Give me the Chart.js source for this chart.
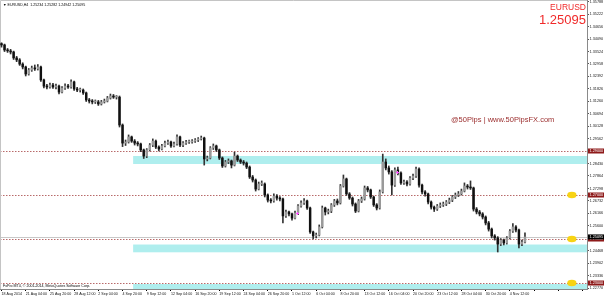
<!DOCTYPE html>
<html>
<head>
<meta charset="utf-8">
<title>EURUSD H4</title>
<script src="https://cdn.jsdelivr.net/npm/chart.js@4.4.0/dist/chart.umd.min.js"></script>
<style>
  html, body { margin: 0; padding: 0; background: #fff; }
  canvas { display: block; }
</style>
</head>
<body>
<canvas id="chart" width="604" height="297"></canvas>
<script>
// ── Candle data (EURUSD H4, 2 bars per candle) ──
var opens = [
  1.3388, 1.3382, 1.3359, 1.3355, 1.3350, 1.3323, 1.3314, 1.3295, 1.3282, 1.3250,
  1.3268, 1.3277, 1.3273, 1.3282, 1.3223, 1.3195, 1.3191, 1.3200, 1.3191, 1.3195,
  1.3168, 1.3186, 1.3195, 1.3191, 1.3214, 1.3182, 1.3177, 1.3177, 1.3164, 1.3132,
  1.3127, 1.3123, 1.3123, 1.3114, 1.3123, 1.3127, 1.3141, 1.3150, 1.3145, 1.3145,
  1.3018, 1.2936, 1.2941, 1.2964, 1.2945, 1.2936, 1.2932, 1.2905, 1.2877, 1.2905,
  1.2927, 1.2945, 1.2918, 1.2909, 1.2923, 1.2936, 1.2941, 1.2923, 1.2932, 1.2964,
  1.2927, 1.2936, 1.2941, 1.2941, 1.2945, 1.2950, 1.2955, 1.2959, 1.2864, 1.2868,
  1.2914, 1.2923, 1.2905, 1.2868, 1.2832, 1.2850, 1.2855, 1.2836, 1.2877, 1.2859,
  1.2850, 1.2845, 1.2827, 1.2782, 1.2768, 1.2727, 1.2750, 1.2750, 1.2700, 1.2677,
  1.2673, 1.2695, 1.2686, 1.2682, 1.2605, 1.2623, 1.2614, 1.2595, 1.2618, 1.2650,
  1.2664, 1.2673, 1.2641, 1.2532, 1.2514, 1.2518, 1.2555, 1.2641, 1.2623, 1.2627,
  1.2655, 1.2673, 1.2664, 1.2741, 1.2773, 1.2705, 1.2686, 1.2659, 1.2627, 1.2673,
  1.2682, 1.2732, 1.2723, 1.2691, 1.2655, 1.2641, 1.2714, 1.2850, 1.2823, 1.2805,
  1.2745, 1.2814, 1.2800, 1.2755, 1.2759, 1.2750, 1.2777, 1.2786, 1.2818, 1.2745,
  1.2714, 1.2705, 1.2668, 1.2645, 1.2636, 1.2650, 1.2655, 1.2659, 1.2668, 1.2677,
  1.2691, 1.2700, 1.2705, 1.2718, 1.2741, 1.2736, 1.2732, 1.2636, 1.2623, 1.2614,
  1.2600, 1.2573, 1.2545, 1.2514, 1.2505, 1.2477, 1.2495, 1.2482, 1.2505, 1.2536,
  1.2555, 1.2541, 1.2477, 1.2486
];
var highs = [
  1.3392, 1.3386, 1.3366, 1.3362, 1.3354, 1.3330, 1.3320, 1.3301, 1.3286, 1.3275,
  1.3286, 1.3291, 1.3293, 1.3286, 1.3227, 1.3203, 1.3209, 1.3207, 1.3204, 1.3200,
  1.3193, 1.3205, 1.3203, 1.3223, 1.3218, 1.3189, 1.3186, 1.3182, 1.3168, 1.3139,
  1.3134, 1.3132, 1.3130, 1.3130, 1.3136, 1.3148, 1.3159, 1.3157, 1.3152, 1.3150,
  1.3023, 1.2950, 1.2973, 1.2968, 1.2952, 1.2943, 1.2936, 1.2909, 1.2911, 1.2934,
  1.2955, 1.2950, 1.2923, 1.2930, 1.2945, 1.2950, 1.2945, 1.2941, 1.2973, 1.2968,
  1.2943, 1.2948, 1.2950, 1.2952, 1.2957, 1.2961, 1.2968, 1.2963, 1.2877, 1.2920,
  1.2932, 1.2927, 1.2909, 1.2873, 1.2857, 1.2864, 1.2859, 1.2895, 1.2882, 1.2864,
  1.2857, 1.2850, 1.2832, 1.2789, 1.2773, 1.2759, 1.2764, 1.2755, 1.2705, 1.2684,
  1.2705, 1.2702, 1.2693, 1.2686, 1.2632, 1.2627, 1.2618, 1.2627, 1.2657, 1.2673,
  1.2684, 1.2677, 1.2645, 1.2536, 1.2527, 1.2564, 1.2650, 1.2645, 1.2636, 1.2661,
  1.2680, 1.2682, 1.2748, 1.2791, 1.2777, 1.2711, 1.2691, 1.2664, 1.2680, 1.2691,
  1.2741, 1.2739, 1.2727, 1.2695, 1.2661, 1.2723, 1.2886, 1.2864, 1.2832, 1.2811,
  1.2823, 1.2827, 1.2805, 1.2768, 1.2766, 1.2784, 1.2795, 1.2827, 1.2823, 1.2750,
  1.2720, 1.2709, 1.2673, 1.2650, 1.2657, 1.2664, 1.2668, 1.2675, 1.2686, 1.2698,
  1.2709, 1.2716, 1.2727, 1.2755, 1.2748, 1.2764, 1.2736, 1.2643, 1.2630, 1.2620,
  1.2605, 1.2580, 1.2550, 1.2520, 1.2511, 1.2502, 1.2500, 1.2511, 1.2543, 1.2570,
  1.2561, 1.2545, 1.2495, 1.2528
];
var lows = [
  1.3372, 1.3352, 1.3348, 1.3341, 1.3316, 1.3306, 1.3289, 1.3273, 1.3241, 1.3245,
  1.3262, 1.3266, 1.3268, 1.3216, 1.3187, 1.3182, 1.3186, 1.3184, 1.3182, 1.3159,
  1.3164, 1.3180, 1.3184, 1.3186, 1.3175, 1.3170, 1.3168, 1.3157, 1.3125, 1.3118,
  1.3114, 1.3116, 1.3107, 1.3109, 1.3118, 1.3123, 1.3136, 1.3139, 1.3136, 1.3009,
  1.2920, 1.2925, 1.2936, 1.2939, 1.2927, 1.2923, 1.2897, 1.2866, 1.2870, 1.2900,
  1.2920, 1.2911, 1.2900, 1.2905, 1.2918, 1.2930, 1.2916, 1.2918, 1.2927, 1.2920,
  1.2920, 1.2930, 1.2934, 1.2936, 1.2939, 1.2943, 1.2950, 1.2836, 1.2855, 1.2864,
  1.2907, 1.2898, 1.2861, 1.2825, 1.2827, 1.2843, 1.2823, 1.2832, 1.2852, 1.2843,
  1.2836, 1.2820, 1.2775, 1.2759, 1.2718, 1.2723, 1.2743, 1.2691, 1.2668, 1.2664,
  1.2668, 1.2677, 1.2673, 1.2573, 1.2598, 1.2605, 1.2586, 1.2591, 1.2611, 1.2645,
  1.2657, 1.2634, 1.2525, 1.2500, 1.2505, 1.2514, 1.2550, 1.2609, 1.2614, 1.2620,
  1.2648, 1.2655, 1.2659, 1.2736, 1.2698, 1.2680, 1.2650, 1.2620, 1.2623, 1.2666,
  1.2677, 1.2714, 1.2684, 1.2648, 1.2632, 1.2636, 1.2709, 1.2814, 1.2795, 1.2700,
  1.2739, 1.2791, 1.2748, 1.2748, 1.2741, 1.2745, 1.2770, 1.2780, 1.2736, 1.2705,
  1.2695, 1.2659, 1.2636, 1.2625, 1.2630, 1.2643, 1.2648, 1.2652, 1.2661, 1.2670,
  1.2684, 1.2693, 1.2700, 1.2714, 1.2727, 1.2725, 1.2627, 1.2614, 1.2605, 1.2591,
  1.2564, 1.2536, 1.2505, 1.2495, 1.2441, 1.2470, 1.2473, 1.2477, 1.2500, 1.2530,
  1.2532, 1.2459, 1.2470, 1.2482
];
var closes = [
  1.3382, 1.3359, 1.3355, 1.3350, 1.3323, 1.3314, 1.3295, 1.3282, 1.3250, 1.3268,
  1.3277, 1.3273, 1.3282, 1.3223, 1.3195, 1.3191, 1.3200, 1.3191, 1.3195, 1.3168,
  1.3186, 1.3195, 1.3191, 1.3214, 1.3182, 1.3177, 1.3177, 1.3164, 1.3132, 1.3127,
  1.3123, 1.3123, 1.3114, 1.3123, 1.3127, 1.3141, 1.3150, 1.3145, 1.3145, 1.3018,
  1.2936, 1.2941, 1.2964, 1.2945, 1.2936, 1.2932, 1.2905, 1.2877, 1.2905, 1.2927,
  1.2945, 1.2918, 1.2909, 1.2923, 1.2936, 1.2941, 1.2923, 1.2932, 1.2964, 1.2927,
  1.2936, 1.2941, 1.2941, 1.2945, 1.2950, 1.2955, 1.2959, 1.2864, 1.2868, 1.2914,
  1.2923, 1.2905, 1.2868, 1.2832, 1.2850, 1.2855, 1.2836, 1.2877, 1.2859, 1.2850,
  1.2845, 1.2827, 1.2782, 1.2768, 1.2727, 1.2750, 1.2750, 1.2700, 1.2677, 1.2673,
  1.2695, 1.2686, 1.2682, 1.2605, 1.2623, 1.2614, 1.2595, 1.2618, 1.2650, 1.2664,
  1.2673, 1.2641, 1.2532, 1.2514, 1.2518, 1.2555, 1.2641, 1.2623, 1.2627, 1.2655,
  1.2673, 1.2664, 1.2741, 1.2773, 1.2705, 1.2686, 1.2659, 1.2627, 1.2673, 1.2682,
  1.2732, 1.2723, 1.2691, 1.2655, 1.2641, 1.2714, 1.2850, 1.2823, 1.2805, 1.2745,
  1.2814, 1.2800, 1.2755, 1.2759, 1.2750, 1.2777, 1.2786, 1.2818, 1.2745, 1.2714,
  1.2705, 1.2668, 1.2645, 1.2636, 1.2650, 1.2655, 1.2659, 1.2668, 1.2677, 1.2691,
  1.2700, 1.2705, 1.2718, 1.2741, 1.2736, 1.2732, 1.2636, 1.2623, 1.2614, 1.2600,
  1.2573, 1.2545, 1.2514, 1.2505, 1.2477, 1.2495, 1.2482, 1.2505, 1.2536, 1.2555,
  1.2541, 1.2477, 1.2486, 1.25095
];

// ── Axis labels ──────────────────────────────────────────────────────
var timeLabels = [
  '18 Aug 2014', '21 Aug 04:00', '25 Aug 20:00', '28 Aug 12:00', '2 Sep 04:00',
  '4 Sep 20:00', '9 Sep 12:00', '12 Sep 04:00', '16 Sep 20:00', '19 Sep 12:00',
  '24 Sep 04:00', '26 Sep 20:00', '1 Oct 12:00', '6 Oct 04:00', '8 Oct 20:00',
  '13 Oct 12:00', '16 Oct 04:00', '20 Oct 20:00', '23 Oct 12:00', '28 Oct 04:00',
  '30 Oct 20:00', '4 Nov 12:00'
];
var labelEvery = 8;     // candles between time labels
var slotCount = 194;    // candle slots across the window (chart shift on the right)
var priceTicks = [
  1.35788, 1.35222, 1.34656, 1.34090, 1.33524, 1.32958, 1.32392, 1.31826,
  1.31260, 1.30694, 1.30128, 1.29562, 1.28996, 1.28430, 1.27864, 1.27298,
  1.26732, 1.26166, 1.25600, 1.25034, 1.24468, 1.23902, 1.23336, 1.22770
];
var yMin = 1.22728, yMax = 1.35863;

// ── Drawn objects ────────────────────────────────────────────────────
var levels = [1.29, 1.27, 1.25, 1.23];
var lastPrice = 1.25095;
var zones = [[1.28773, 1.28409], [1.24750, 1.24396], [1.22955, 1.22600]];
var zoneStart = 43.5;
var dotLevels = [1.27, 1.25, 1.23];
var dotSlot = 188.5;
var tradeSlots = [97.5, 130.6];
var tradePrices = [1.2618, 1.2805];
var header = '\u25BC EURUSD,H4  1.25234 1.25282 1.24942 1.25095';

var FONT = '"Liberation Sans", Arial, sans-serif';

var slots = [];
for (var i = 0; i < slotCount; i++) {
  slots.push(i % labelEvery === 0 && timeLabels[i / labelEvery] ? timeLabels[i / labelEvery] : '');
}

function isUp(i) { return closes[i] >= opens[i]; }

var overlayPlugin = {
  id: 'mtOverlay',
  beforeDatasetsDraw: function (chart) {
    var ctx = chart.ctx, a = chart.chartArea;
    var xs = chart.scales.x, ys = chart.scales.y;
    ctx.save();
    // support / resistance zones
    ctx.fillStyle = '#afeeee';
    var zx = xs.getPixelForValue(zoneStart);
    zones.forEach(function (z) {
      var y1 = Math.max(ys.getPixelForValue(z[0]), a.top);
      var y2 = Math.min(ys.getPixelForValue(z[1]), a.bottom);
      ctx.fillRect(zx, y1, a.right - zx, y2 - y1);
    });
    // current price line
    var py = Math.round(ys.getPixelForValue(lastPrice)) + 0.5;
    ctx.strokeStyle = '#c8c8c8';
    ctx.lineWidth = 1;
    ctx.beginPath(); ctx.moveTo(a.left, py); ctx.lineTo(a.right, py); ctx.stroke();
    // dotted level lines
    ctx.strokeStyle = '#b86a6a';
    ctx.setLineDash([1.5, 1.5]);
    levels.forEach(function (lv) {
      var ly = Math.round(ys.getPixelForValue(lv)) + 0.5;
      ctx.beginPath(); ctx.moveTo(a.left, ly); ctx.lineTo(a.right, ly); ctx.stroke();
    });
    ctx.setLineDash([]);
    // window frame
    ctx.strokeStyle = '#c4c4c4';
    ctx.beginPath();
    ctx.moveTo(0.5, a.bottom); ctx.lineTo(0.5, 0.5); ctx.lineTo(a.right, 0.5);
    ctx.stroke();
    ctx.restore();
  },
  afterDatasetsDraw: function (chart) {
    var ctx = chart.ctx;
    var xs = chart.scales.x, ys = chart.scales.y;
    ctx.save();
    // yellow alert dots
    var dx = xs.getPixelForValue(dotSlot);
    ctx.fillStyle = '#f8d313';
    dotLevels.forEach(function (lv) {
      var dy = ys.getPixelForValue(lv);
      ctx.beginPath();
      ctx.ellipse(dx, dy, 4.6, 3.3, 0, 0, Math.PI * 2);
      ctx.fill();
    });
    // trade marks
    ctx.strokeStyle = '#ff55ff';
    ctx.lineWidth = 1;
    tradeSlots.forEach(function (s, k) {
      var tx = Math.round(xs.getPixelForValue(s)) + 0.5;
      var ty = Math.round(ys.getPixelForValue(tradePrices[k])) + 0.5;
      ctx.beginPath();
      ctx.moveTo(tx - 1.5, ty); ctx.lineTo(tx + 1.5, ty);
      ctx.moveTo(tx, ty - 1.5); ctx.lineTo(tx, ty + 1.5);
      ctx.stroke();
    });
    ctx.restore();
  },
  afterDraw: function (chart) {
    var ctx = chart.ctx, a = chart.chartArea, ys = chart.scales.y;
    ctx.save();
    ctx.textBaseline = 'middle';
    ctx.font = '3.8px ' + FONT;
    // price labels on the axis
    function tag(v, bg) {
      var ty = ys.getPixelForValue(v);
      ctx.fillStyle = bg;
      ctx.fillRect(a.right + 1, ty - 2.5, 604 - a.right - 1, 5);
      ctx.fillStyle = '#fff';
      ctx.textAlign = 'left';
      ctx.fillText(v.toFixed(5), a.right + 2.5, ty + 0.3);
    }
    levels.forEach(function (lv) { tag(lv, '#8e1a1a'); });
    tag(lastPrice, '#000');

    // header and footer text
    ctx.fillStyle = '#000';
    ctx.textAlign = 'left';
    ctx.font = '3.6px ' + FONT;
    ctx.fillText(header, 3, 4.5);
    ctx.fillText('FxPro MT4, \u00A9 2001-2014, MetaQuotes Software Corp.', 3, 285.5);

    // symbol + bid
    ctx.textAlign = 'right';
    ctx.textBaseline = 'alphabetic';
    ctx.fillStyle = '#f02a2a';
    ctx.font = '8.5px ' + FONT;
    ctx.fillText('EURUSD', a.right - 1, 9.5);
    ctx.font = '13px ' + FONT;
    ctx.fillText(lastPrice.toFixed(5), a.right - 1, 24);

    // watermark
    ctx.textAlign = 'left';
    ctx.fillStyle = '#9c2f2f';
    ctx.font = '7.5px ' + FONT;
    ctx.fillText('@50Pips | www.50PipsFX.com', 451, 122);
    ctx.restore();
  }
};

new Chart(document.getElementById('chart'), {
  type: 'bar',
  data: {
    labels: slots,
    datasets: [
      {
        label: 'range',
        data: lows.map(function (l, i) { return [l, highs[i]]; }),
        backgroundColor: '#333',
        barThickness: 1,
        grouped: false,
        order: 3,
      },
      {
        label: 'body',
        data: opens.map(function (o, i) { return [o, closes[i]]; }),
        backgroundColor: function (c) { return isUp(c.dataIndex) ? '#9a9a9a' : '#111'; },
        barThickness: 1.8,
        minBarLength: 1,
        grouped: false,
        order: 2,
      },
    ],
  },
  options: {
    responsive: false,
    animation: false,
    devicePixelRatio: 1,
    layout: { padding: 0 },
    events: [],
    plugins: { legend: { display: false }, tooltip: { enabled: false } },
    scales: {
      x: {
        type: 'category',
        offset: true,
        grid: {
          display: true,
          drawOnChartArea: false,
          offset: false,
          tickLength: 2,
          color: function (c) { return c.index % labelEvery === 0 ? '#000' : 'rgba(0,0,0,0)'; },
        },
        border: { display: true, color: '#8a8a8a' },
        ticks: {
          autoSkip: false,
          maxRotation: 0,
          minRotation: 0,
          align: 'start',
          padding: 0.5,
          color: '#111',
          font: { family: FONT, size: 3.6 },
        },
        afterFit: function (s) { s.height = 8; s.paddingLeft = 0; s.paddingRight = 0; },
      },
      y: {
        type: 'linear',
        position: 'right',
        min: yMin,
        max: yMax,
        afterBuildTicks: function (s) {
          s.ticks = priceTicks.map(function (v) { return { value: v }; });
        },
        grid: { drawOnChartArea: false, tickLength: 2, color: '#555' },
        border: { display: true, color: '#8a8a8a' },
        ticks: {
          padding: 0.5,
          color: '#222',
          font: { family: FONT, size: 3.8 },
          callback: function (v) { return Number(v).toFixed(5); },
        },
        afterFit: function (s) { s.width = 17; s.paddingTop = 0; s.paddingBottom = 0; },
      },
    },
  },
  plugins: [overlayPlugin],
});
</script>
</body>
</html>
